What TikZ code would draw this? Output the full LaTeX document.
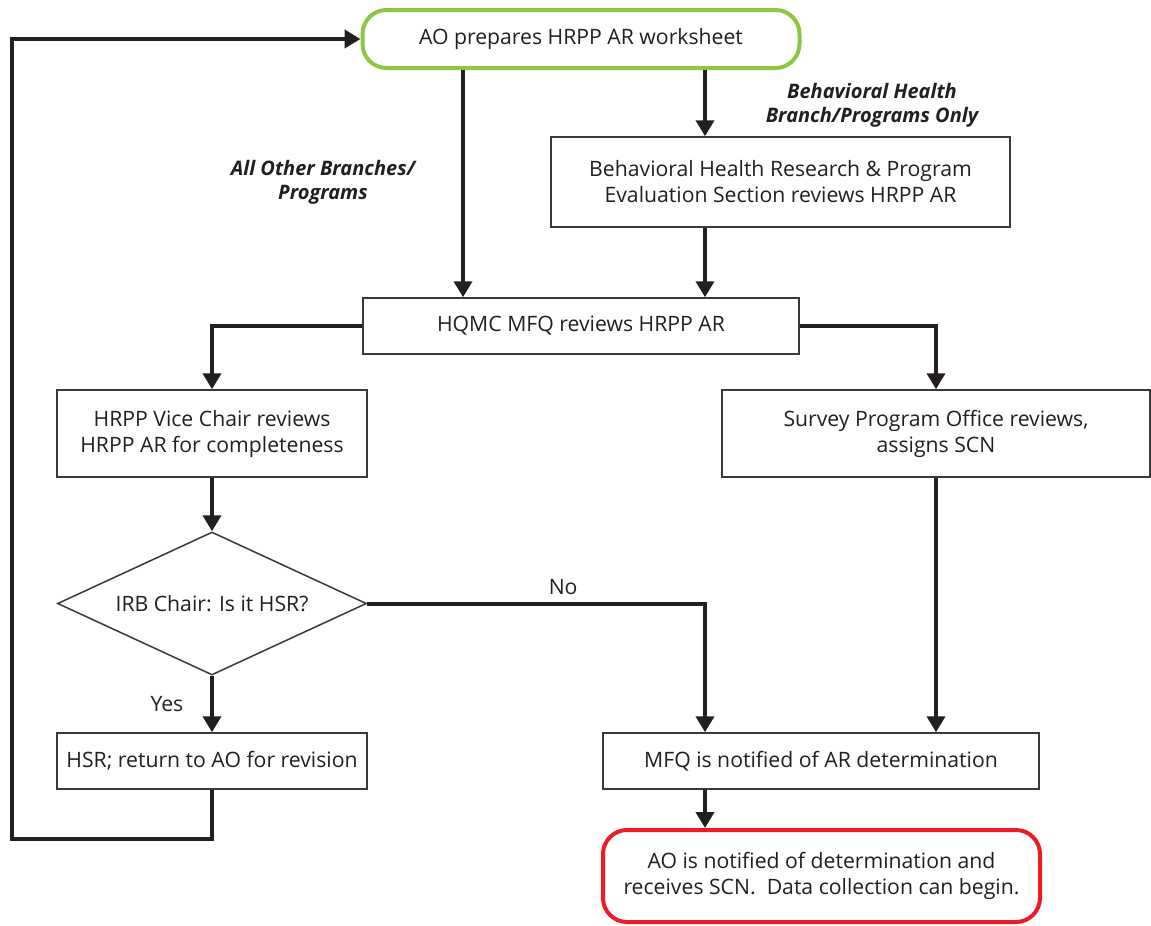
\documentclass[tikz,border=0pt]{standalone}
\usepackage{fontspec}
\setmainfont{Open Sans}
\usetikzlibrary{shapes.geometric,arrows.meta}

\definecolor{inkblack}{HTML}{231F20}
\definecolor{boxgray}{HTML}{3A3839}
\definecolor{startgreen}{HTML}{8DC63F}
\definecolor{endred}{HTML}{ED1C24}

\tikzset{
  box/.style={draw=boxgray, line width=0.75pt, fill=white, align=center,
    inner sep=0pt, text=inkblack},
  startbox/.style={box, draw=startgreen, line width=2pt, rounded corners=12pt},
  endbox/.style={box, draw=endred, line width=2pt, rounded corners=12pt},
  decision/.style={box, diamond, shape aspect=2.16},
  flow/.style={draw=inkblack, line width=2pt,
    -{Triangle[width=9pt,length=8pt]}},
  branch/.style={font=\bfseries\itshape, align=center, text=inkblack},
}

\begin{document}
\begin{tikzpicture}[x=0.5pt, y=-0.5pt,
    font=\fontsize{10.6}{13}\selectfont]
  \useasboundingbox (0,0) rectangle (1151,926);

  % Boxes
  \node[startbox, minimum width=218.5pt, minimum height=29pt] (start) at (581,39)
    {AO prepares HRPP AR worksheet};
  \node[box, minimum width=229.5pt, minimum height=45pt] (bh) at (780.5,182)
    {Behavioral Health Research \& Program\\Evaluation Section reviews HRPP AR};
  \node[box, minimum width=218pt, minimum height=28pt] (hqmc) at (581,326)
    {HQMC MFQ reviews HRPP AR};
  \node[box, minimum width=155pt, minimum height=43.5pt] (vice) at (212,433.5)
    {HRPP Vice Chair reviews\\HRPP AR for completeness};
  \node[box, minimum width=214pt, minimum height=43.5pt] (survey) at (936,433.5)
    {Survey Program Office reviews,\\assigns SCN};
  \node[decision, minimum width=154.5pt, minimum height=71.5pt] (irb) at (212,603.5)
    {IRB Chair: Is it HSR?};
  \node[box, minimum width=155pt, minimum height=28pt] (hsr) at (212,761)
    {HSR; return to AO for revision};
  \node[box, minimum width=218pt, minimum height=28pt] (mfq) at (821,761)
    {MFQ is notified of AR determination};
  \node[endbox, minimum width=218.5pt, minimum height=46pt] (done) at (821.5,876)
    {AO is notified of determination and\\receives SCN.\ \ Data collection can begin.};

  % Branch labels
  \node[branch] (bhlabel) at (872,105) {Behavioral Health\\Branch/Programs Only};
  \node[branch] (otherlabel) at (323,182) {All Other Branches/\\Programs};

  % Columns and loop corner
  \coordinate (colA) at (463,0);
  \coordinate (colB) at (705,0);
  \coordinate (loop) at (12,839);

  % Connectors
  \draw[flow] (start.south -| colA) -- (hqmc.north -| colA);
  \draw[flow] (start.south -| colB) -- (bh.north -| colB);
  \draw[flow] (bh.south -| colB) -- (hqmc.north -| colB);
  \draw[flow] (hqmc.west) -| (vice.north);
  \draw[flow] (hqmc.east) -| (survey.north);
  \draw[flow] (vice.south) -- (irb.north);
  \draw[flow] (irb.south) -- node[left=10pt, text=inkblack] {Yes} (hsr.north);
  \draw[flow] (irb.east) -| node[pos=0.29, above, text=inkblack] {No} (mfq.north -| colB);
  \draw[flow] (survey.south) -- (mfq.north -| survey.south);
  \draw[flow] (mfq.south -| colB) -- (done.north -| colB);
  \draw[flow] (hsr.south) |- (loop) |- (start.west);
\end{tikzpicture}
\end{document}
